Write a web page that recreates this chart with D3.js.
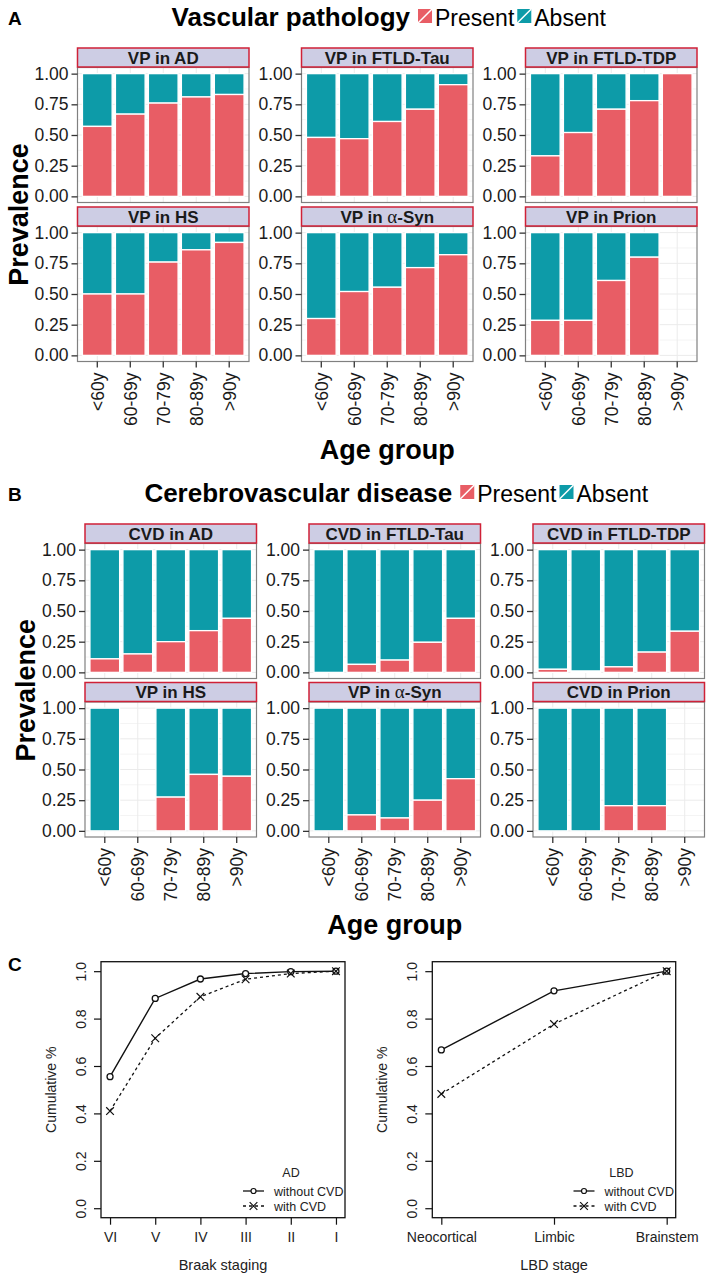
<!DOCTYPE html>
<html>
  <head>
    <meta charset="utf-8">
    <script src="https://d3js.org/d3.v7.min.js"></script>
    <title>Vascular pathology by age group</title>
    <style>
      body { margin: 0px; background: #fff; }
      text { font-family: "Liberation Sans", Arial, sans-serif; }
    </style>
  </head>
  <body>
    <svg width="715" height="1280"></svg>
    <script>
      // ---- data ----
      const ageGroups = ['<60y', '60-69y', '70-79y', '80-89y', '>90y'];

      const vpTitles = ['VP in AD', 'VP in FTLD-Tau', 'VP in FTLD-TDP', 'VP in HS', 'VP in α-Syn', 'VP in Prion'];
      // share "Present" per age group, null = no cases
      const vpPresent = [
        [0.57, 0.67, 0.76, 0.81, 0.83],
        [0.48, 0.47, 0.61, 0.71, 0.91],
        [0.33, 0.52, 0.71, 0.78, 1.00],
        [0.50, 0.50, 0.76, 0.86, 0.92],
        [0.30, 0.52, 0.555, 0.715, 0.82],
        [0.285, 0.285, 0.61, 0.80, null]
      ];

      const cvdTitles = ['CVD in AD', 'CVD in FTLD-Tau', 'CVD in FTLD-TDP', 'VP in HS', 'VP in α-Syn', 'CVD in Prion'];
      const cvdPresent = [
        [0.11, 0.15, 0.25, 0.34, 0.44],
        [0.0, 0.065, 0.10, 0.245, 0.44],
        [0.025, 0.01, 0.045, 0.165, 0.335],
        [0.0, null, 0.275, 0.46, 0.445],
        [0.0, 0.13, 0.105, 0.25, 0.425],
        [0.0, 0.0, 0.205, 0.205, null]
      ];

      const braakStages = ['VI', 'V', 'IV', 'III', 'II', 'I'];
      const adWithout = [0.555, 0.885, 0.967, 0.99, 0.998, 1.0];
      const adWith = [0.41, 0.717, 0.892, 0.966, 0.99, 1.0];

      const lbdStages = ['Neocortical', 'Limbic', 'Brainstem'];
      const lbdWithout = [0.668, 0.917, 1.0];
      const lbdWith = [0.482, 0.777, 1.0];

      const legendLabels = ['Present', 'Absent'];
      const red = '#E85D65', teal = '#0D9BA8';

      const svg = d3.select('svg');

      // ---- faceted stacked bars (panels A and B) ----
      function facetBlock(opts) {
        const pw = 171.5, ph = 135, stripH = 20;
        opts.titles.forEach((title, i) => {
          const col = i % 3, row = Math.floor(i / 3);
          const left = opts.lefts[col];
          const top = opts.panelTops[row];
          const bottom = top + ph;

          const x = d3.scaleBand().domain(ageGroups)
            .range([left, left + pw]).paddingInner(0.1).paddingOuter(0.15);
          const y = d3.scaleLinear().domain([-0.05, 1.05]).range([bottom, top]);
          const g = svg.append('g');

          // grid
          g.selectAll('.minor').data([0.125, 0.375, 0.625, 0.875]).enter().append('line')
            .attr('x1', left).attr('x2', left + pw)
            .attr('y1', d => y(d)).attr('y2', d => y(d))
            .attr('stroke', '#f4f4f4');
          g.selectAll('.major').data([0, 0.25, 0.5, 0.75, 1]).enter().append('line')
            .attr('x1', left).attr('x2', left + pw)
            .attr('y1', d => y(d)).attr('y2', d => y(d))
            .attr('stroke', '#ebebeb');
          g.selectAll('.vgrid').data(ageGroups).enter().append('line')
            .attr('x1', d => x(d) + x.bandwidth() / 2).attr('x2', d => x(d) + x.bandwidth() / 2)
            .attr('y1', top).attr('y2', bottom)
            .attr('stroke', '#ebebeb');

          // bars
          const vals = opts.present[i];
          const bars = ageGroups.map((a, k) => ({ age: a, v: vals[k] })).filter(d => d.v !== null);
          g.selectAll('.abs').data(bars).enter().append('rect')
            .attr('x', d => x(d.age)).attr('width', x.bandwidth())
            .attr('y', y(1)).attr('height', d => y(d.v) - y(1))
            .attr('fill', teal).attr('stroke', '#fff').attr('stroke-width', 1.3);
          g.selectAll('.pre').data(bars.filter(d => d.v > 0)).enter().append('rect')
            .attr('x', d => x(d.age)).attr('width', x.bandwidth())
            .attr('y', d => y(d.v)).attr('height', d => y(0) - y(d.v))
            .attr('fill', red).attr('stroke', '#fff').attr('stroke-width', 1.3);

          // border
          g.append('rect').attr('x', left).attr('y', top).attr('width', pw).attr('height', ph)
            .attr('fill', 'none').attr('stroke', '#808080').attr('stroke-width', 1.2);

          // y axis
          const ya = g.append('g').attr('transform', `translate(${left},0)`)
            .call(d3.axisLeft(y).tickValues([0, 0.25, 0.5, 0.75, 1])
              .tickFormat(d3.format('.2f')).tickSize(6).tickPadding(3));
          ya.select('.domain').remove();
          ya.selectAll('line').attr('stroke', '#333').attr('stroke-width', 1.3);
          ya.selectAll('text').attr('font-size', 17.5).attr('fill', '#1a1a1a')
            .style('font-family', '"Liberation Sans", Arial, sans-serif');

          // x axis on bottom row
          if (row === 1) {
            const xa = g.append('g').attr('transform', `translate(0,${bottom})`)
              .call(d3.axisBottom(x).tickSize(6).tickPadding(4));
            xa.select('.domain').remove();
            xa.selectAll('line').attr('stroke', '#333').attr('stroke-width', 1.3);
            xa.selectAll('text')
              .attr('transform', 'rotate(-90)')
              .attr('x', -11).attr('y', 0).attr('dy', '0.36em')
              .attr('text-anchor', 'end')
              .attr('font-size', 17.5).attr('fill', '#1a1a1a')
              .style('font-family', '"Liberation Sans", Arial, sans-serif');
          }

          // strip
          const sTop = top - stripH;
          g.append('rect').attr('x', left).attr('y', sTop + 0.5).attr('width', pw).attr('height', stripH - 1)
            .attr('fill', '#cdcde4').attr('stroke', '#cf2137').attr('stroke-width', 1.5);
          const st = g.append('text').attr('x', left + pw / 2).attr('y', sTop + 16)
            .attr('text-anchor', 'middle').attr('font-size', 17).attr('font-weight', 'bold')
            .attr('fill', '#1a1a1a');
          if (title.includes('α')) {
            const parts = title.split('α');
            st.append('tspan').text(parts[0]);
            st.append('tspan').text('α').attr('font-family', '"Liberation Serif", serif')
              .attr('font-weight', 'normal').attr('font-size', 19);
            st.append('tspan').text(parts[1]);
          } else {
            st.text(title);
          }
        });

        // axis titles
        const cx = (opts.lefts[0] + opts.lefts[2] + pw) / 2;
        svg.append('text')
          .attr('transform', `translate(${opts.lefts[0] - 50},${(opts.panelTops[0] + opts.panelTops[1] + ph) / 2}) rotate(-90)`)
          .attr('text-anchor', 'middle').attr('font-size', 27).attr('font-weight', 'bold')
          .text('Prevalence');
        svg.append('text').attr('x', cx).attr('y', opts.panelTops[1] + ph + 97)
          .attr('text-anchor', 'middle').attr('font-size', 27).attr('font-weight', 'bold')
          .text('Age group');

        // panel letter
        svg.append('text').attr('x', 8).attr('y', opts.titleY - 1)
          .attr('font-size', 19).attr('font-weight', 'bold').text(opts.letter);

        // title + legend, centred over the panels
        const tg = svg.append('g');
        const tt = tg.append('text').attr('y', opts.titleY).attr('font-size', 26)
          .attr('font-weight', 'bold').text(opts.title);
        const tw = tt.node().getComputedTextLength();
        let xpos = tw + 8;
        legendLabels.forEach((lab, k) => {
          const col = k === 0 ? red : teal;
          tg.append('rect').attr('x', xpos).attr('y', opts.titleY - 17).attr('width', 14).attr('height', 14)
            .attr('fill', col);
          tg.append('line').attr('x1', xpos).attr('y1', opts.titleY - 3)
            .attr('x2', xpos + 14).attr('y2', opts.titleY - 17)
            .attr('stroke', '#fff').attr('stroke-width', 1.5);
          const lt = tg.append('text').attr('x', xpos + 17).attr('y', opts.titleY)
            .attr('font-size', 23).text(lab);
          xpos += 17 + lt.node().getComputedTextLength() + 3;
        });
        tg.attr('transform', `translate(${cx + 3 - xpos / 2},0)`);
      }

      facetBlock({
        letter: 'A', title: 'Vascular pathology', titleY: 26,
        titles: vpTitles, present: vpPresent,
        lefts: [77.5, 301.5, 525.5], panelTops: [67.5, 226.5]
      });
      facetBlock({
        letter: 'B', title: 'Cerebrovascular disease', titleY: 502,
        titles: cvdTitles, present: cvdPresent,
        lefts: [85, 309, 533], panelTops: [543.5, 702]
      });

      svg.append('text').attr('x', 8).attr('y', 971)
        .attr('font-size', 19).attr('font-weight', 'bold').text('C');

      // ---- cumulative line plots (panel C) ----
      function linePlot(opts) {
        const { left, right, top, bottom, stages, without, withCvd } = opts;
        const n = stages.length;
        const pad = (n - 1) * 0.04;
        const x = d3.scaleLinear().domain([1 - pad, n + pad]).range([left, right]);
        const y = d3.scaleLinear().domain([-0.04, 1.04]).range([bottom, top]);
        const g = svg.append('g');
        const font = '"Liberation Sans", Arial, sans-serif';

        g.append('rect').attr('x', left).attr('y', top).attr('width', right - left).attr('height', bottom - top)
          .attr('fill', 'none').attr('stroke', '#111').attr('stroke-width', 1.3);

        const ya = g.append('g').attr('transform', `translate(${left},0)`)
          .call(d3.axisLeft(y).tickValues([0, 0.2, 0.4, 0.6, 0.8, 1]).tickFormat(d3.format('.1f')).tickSize(7));
        ya.select('.domain').remove();
        ya.selectAll('line').attr('stroke', '#111').attr('stroke-width', 1.2);
        ya.selectAll('text').attr('transform', 'rotate(-90)').attr('x', 0).attr('y', -15).attr('dy', 0)
          .attr('text-anchor', 'middle').attr('font-size', 14).attr('fill', '#222').style('font-family', font);

        const xa = g.append('g').attr('transform', `translate(0,${bottom})`)
          .call(d3.axisBottom(x).tickValues(d3.range(1, n + 1)).tickFormat(d => stages[d - 1]).tickSize(7).tickPadding(7));
        xa.select('.domain').remove();
        xa.selectAll('line').attr('stroke', '#111').attr('stroke-width', 1.2);
        xa.selectAll('text').attr('font-size', 14).attr('fill', '#222').style('font-family', font);

        svg.append('text').attr('transform', `translate(${left - 45},${(top + bottom) / 2}) rotate(-90)`)
          .attr('text-anchor', 'middle').attr('font-size', 14).attr('fill', '#222').text('Cumulative %');
        svg.append('text').attr('x', (left + right) / 2).attr('y', bottom + 52)
          .attr('text-anchor', 'middle').attr('font-size', 14.5).attr('fill', '#222').text(opts.xTitle);

        const line = d3.line().x((d, i) => x(i + 1)).y(d => y(d));
        g.append('path').datum(without).attr('d', line)
          .attr('fill', 'none').attr('stroke', '#111').attr('stroke-width', 1.4);
        g.append('path').datum(withCvd).attr('d', line)
          .attr('fill', 'none').attr('stroke', '#111').attr('stroke-width', 1.3).attr('stroke-dasharray', '3,3');
        g.selectAll('.pt').data(without).enter().append('circle')
          .attr('cx', (d, i) => x(i + 1)).attr('cy', d => y(d)).attr('r', 3)
          .attr('fill', '#fff').attr('stroke', '#111').attr('stroke-width', 1.3);
        const cross = d3.symbol().type(d3.symbolX).size(40);
        g.selectAll('.cx').data(withCvd).enter().append('path')
          .attr('transform', (d, i) => `translate(${x(i + 1)},${y(d)})`)
          .attr('d', cross).attr('fill', 'none').attr('stroke', '#111').attr('stroke-width', 1.2);

        // legend
        const lx = opts.legendX;
        svg.append('text').attr('x', lx + 48).attr('y', 1177).attr('text-anchor', 'middle')
          .attr('font-size', 12.5).attr('fill', '#222').text(opts.legendTitle);
        [['without CVD', 1191], ['with CVD', 1206]].forEach(([lab, ly], k) => {
          svg.append('line').attr('x1', lx).attr('x2', lx + 21).attr('y1', ly).attr('y2', ly)
            .attr('stroke', '#111').attr('stroke-width', 1.3).attr('stroke-dasharray', k ? '3,3' : null);
          if (k === 0) {
            svg.append('circle').attr('cx', lx + 10.5).attr('cy', ly).attr('r', 2.5)
              .attr('fill', '#fff').attr('stroke', '#111').attr('stroke-width', 1.2);
          } else {
            svg.append('path').attr('transform', `translate(${lx + 10.5},${ly})`).attr('d', cross)
              .attr('fill', 'none').attr('stroke', '#111').attr('stroke-width', 1.2);
          }
          svg.append('text').attr('x', lx + 31).attr('y', ly + 4.5).attr('font-size', 12.5)
            .attr('fill', '#222').text(lab);
        });
      }

      linePlot({
        left: 101, right: 345, top: 961.7, bottom: 1217.7,
        stages: braakStages, without: adWithout, withCvd: adWith,
        xTitle: 'Braak staging', legendTitle: 'AD', legendX: 243
      });
      linePlot({
        left: 432.3, right: 675.7, top: 961.7, bottom: 1217.7,
        stages: lbdStages, without: lbdWithout, withCvd: lbdWith,
        xTitle: 'LBD stage', legendTitle: 'LBD', legendX: 573.5
      });
    </script>
  </body>
</html>
